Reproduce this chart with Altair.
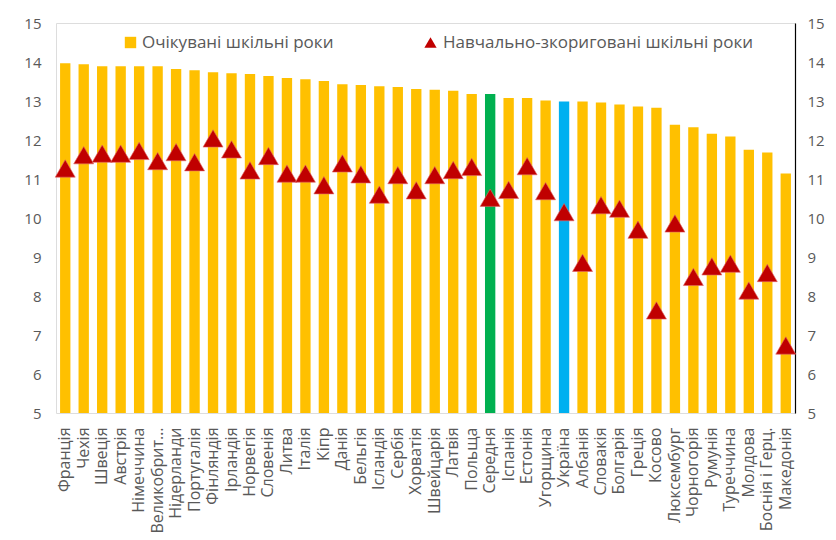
import altair as alt
import pandas as pd

countries = ["Франція", "Чехія", "Швеція", "Австрія", "Німеччина", "Великобританія",
             "Нідерланди", "Португалія", "Фінляндія", "Ірландія", "Норвегія", "Словенія",
             "Литва", "Італія", "Кіпр", "Данія", "Бельгія", "Ісландія", "Сербія", "Хорватія",
             "Швейцарія", "Латвія", "Польща", "Середня", "Іспанія", "Естонія", "Угорщина",
             "Україна", "Албанія", "Словакія", "Болгарія", "Греція", "Косово", "Люксембург",
             "Чорногорія", "Румунія", "Туреччина", "Молдова", "Боснія і Герц.", "Македонія"]

expected = [13.97, 13.94, 13.89, 13.89, 13.89, 13.89, 13.82, 13.79, 13.74, 13.71,
            13.69, 13.64, 13.59, 13.56, 13.51, 13.43, 13.41, 13.38, 13.36, 13.31,
            13.29, 13.26, 13.18, 13.18, 13.08, 13.08, 13.01, 12.99, 12.99, 12.96,
            12.91, 12.86, 12.83, 12.39, 12.33, 12.16, 12.09, 11.75, 11.68, 11.14]

adjusted = [11.27, 11.61, 11.65, 11.65, 11.72, 11.46, 11.69, 11.43, 12.04, 11.76,
            11.22, 11.59, 11.14, 11.14, 10.84, 11.40, 11.12, 10.60, 11.10, 10.71,
            11.10, 11.23, 11.31, 10.52, 10.72, 11.33, 10.69, 10.15, 8.85, 10.33,
            10.24, 9.70, 7.63, 9.86, 8.49, 8.76, 8.83, 8.14, 8.59, 6.73]

s_bar = "Очікувані шкільні роки"
s_pt = "Навчально-зкориговані шкільні роки"
highlight = ["Середня", "Україна"]

df = pd.DataFrame({
    "country": countries,
    "expected": expected,
    "adjusted": adjusted,
})
df["group"] = [c if c in highlight else s_bar for c in countries]
df["series"] = s_pt

FONT = "Open Sans"
GREY = "#595959"

x_enc = alt.X("country:N", sort=countries, title=None,
              scale=alt.Scale(paddingInner=0.44, paddingOuter=0.22),
              axis=alt.Axis(labelAngle=-90, labelFontSize=16, labelColor=GREY, labelFont=FONT,
                            ticks=False, domain=False, labelPadding=14, labelLimit=200,
                            labelExpr="datum.label == 'Великобританія' ? 'Великобрит…' : datum.label",
                            minExtent=118, maxExtent=118))

yscale = alt.Scale(domain=[5, 15], zero=False, nice=False)

bars = alt.Chart(df).mark_bar().encode(
    x=x_enc,
    y=alt.Y("expected:Q", scale=yscale, title=None,
            axis=alt.Axis(values=list(range(5, 16)), orient="left", grid=False, ticks=False,
                          domain=False, labelFontSize=15, labelColor=GREY, labelFont=FONT,
                          labelPadding=15, minExtent=40, maxExtent=40)),
    y2=alt.datum(5),
    color=alt.Color("group:N", title=None,
                    scale=alt.Scale(domain=[s_bar] + highlight,
                                    range=["#FFC000", "#00B050", "#00B0F0"]),
                    legend=alt.Legend(values=[s_bar], orient="none", legendX=66, legendY=11,
                                      symbolType="square", symbolSize=130, labelLimit=400,
                                      labelFontSize=17, labelColor=GREY, labelFont=FONT,
                                      labelOffset=3)),
)

points = alt.Chart(df).mark_point(shape="triangle-up", filled=True, size=400, opacity=1,
                                  stroke="#E06666", strokeWidth=0.6).encode(
    x=x_enc,
    y=alt.Y("adjusted:Q", scale=yscale, title=None,
            axis=alt.Axis(values=list(range(5, 16)), orient="right", grid=False, ticks=False,
                          domain=True, domainColor="#000000", domainWidth=1.2,
                          labelFontSize=15, labelColor=GREY, labelFont=FONT,
                          labelPadding=12, minExtent=30, maxExtent=30)),
    fill=alt.Fill("series:N", title=None,
                  scale=alt.Scale(domain=[s_pt], range=["#C00000"]),
                  legend=alt.Legend(orient="none", legendX=366, legendY=11,
                                    symbolType="triangle-up", symbolSize=150,
                                    symbolStrokeWidth=0, labelLimit=500,
                                    labelFontSize=17, labelColor=GREY, labelFont=FONT,
                                    labelOffset=4)),
)

chart = alt.layer(bars, points).resolve_scale(y="independent").properties(
    width=739, height=390,
    padding={"left": 8, "top": 8, "right": 0, "bottom": 0},
).configure_view(stroke="#A6A6A6", strokeWidth=1).configure(background="white")

chart.save("out.html", embed_options={"renderer": "svg", "actions": False})
